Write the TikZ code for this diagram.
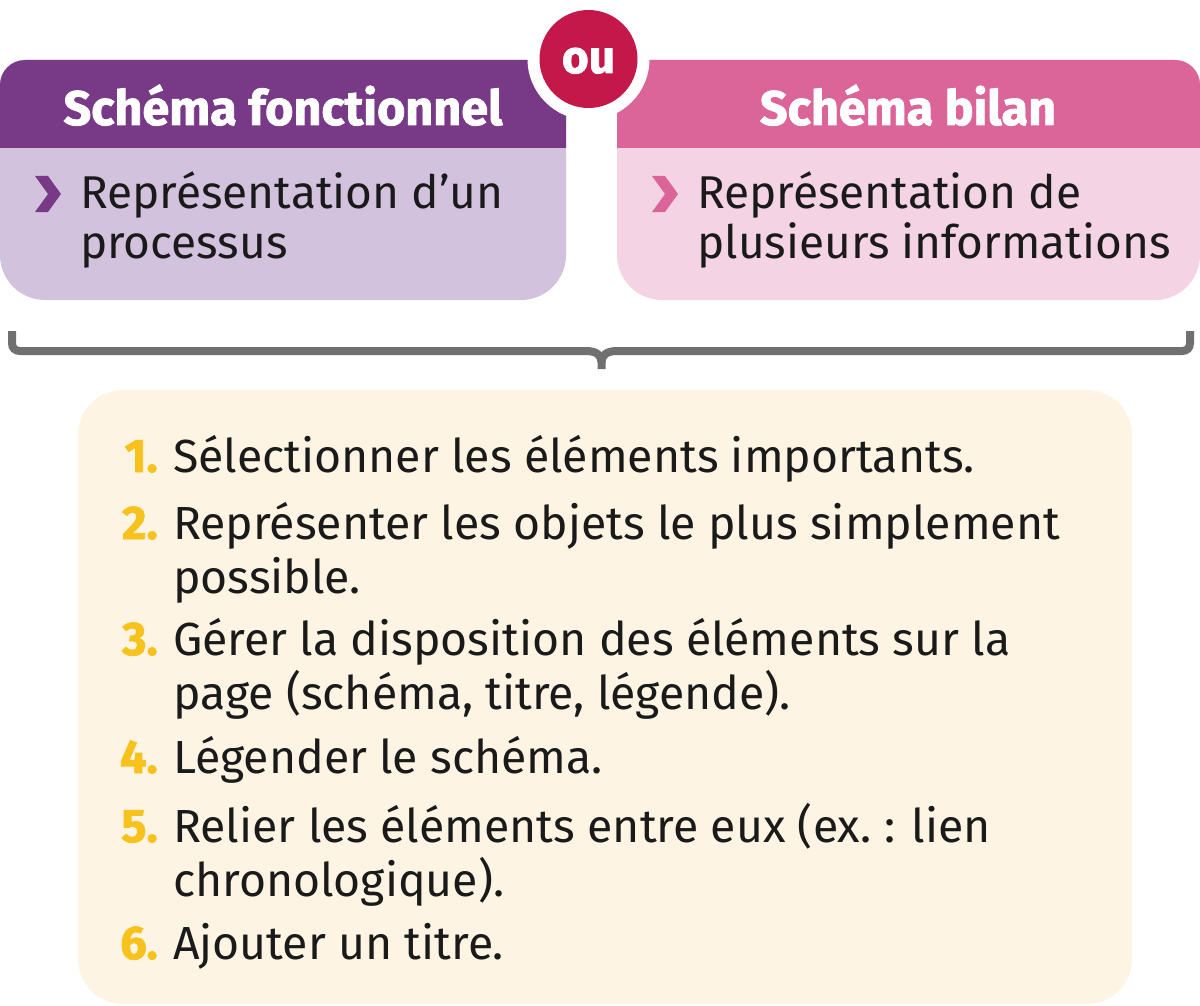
\documentclass[tikz,border=0pt]{standalone}
\usepackage{fontspec}
\setmainfont{Fira Sans}
\newfontfamily\heavyfont[FakeBold=1.6]{Fira Sans Bold}
\definecolor{purpleH}{HTML}{783A87}
\definecolor{purpleB}{HTML}{D3C2DE}
\definecolor{pinkH}{HTML}{DB6598}
\definecolor{pinkB}{HTML}{F4D4E4}
\definecolor{ouRed}{HTML}{C4184B}
\definecolor{creme}{HTML}{FDF4E3}
\definecolor{numY}{HTML}{F8C21C}
\definecolor{braceG}{HTML}{707070}
\definecolor{txt}{HTML}{1A1A1A}
\tikzset{
  heading/.style={font=\fontsize{48.5}{50}\heavyfont, text=white, inner sep=0pt, anchor=base},
  boxtext/.style={font=\fontsize{46}{50}\selectfont, text=txt, inner sep=0pt, anchor=base west},
  itemnum/.style={font=\fontsize{47}{54}\heavyfont, text=numY, inner sep=0pt, anchor=base east},
  itemtext/.style={font=\fontsize{46.4}{54}\selectfont, text=txt, inner sep=0pt, anchor=base west},
}
\newcommand{\twoline}[2]{\parbox[t]{1000pt}{#1\\#2}}
\begin{document}
\begin{tikzpicture}[x=1pt,y=-1pt]
\useasboundingbox (0,0) rectangle (1200,1006);
% left box
\fill[purpleB] (566,148) -- (566,60) [rounded corners=25]-- (0,60) [rounded corners=45]-- (0,300) -- (566,300) [sharp corners]-- cycle;
\fill[purpleH] (566,148) -- (566,60) [rounded corners=25]-- (0,60) [sharp corners]-- (0,148) -- cycle;
% right box
\fill[pinkB] (617,148) [rounded corners=25]-- (617,60) -- (1200,60) [rounded corners=45]-- (1200,300) -- (617,300) [sharp corners]-- cycle;
\fill[pinkH] (617,148) [rounded corners=25]-- (617,60) -- (1200,60) [sharp corners]-- (1200,148) -- cycle;
% ou circle
\fill[white] (588.5,59) circle[radius=61];
\node[circle, fill=ouRed, minimum size=98pt, inner sep=0pt] (ou) at (588.5,59) {};
\node[text=white, font=\fontsize{46}{50}\heavyfont, inner sep=0pt, anchor=base] (outext) at (588.5,73) {ou};
% headings
\node[heading] (hL) at (283,125) {Schéma fonctionnel};
\node[heading] (hR) at (908,125) {Schéma bilan};
% chevrons
\fill[purpleH] (35,176) -- (48,176) -- (61,194) -- (48,212) -- (35,212) -- (48,194) -- cycle;
\fill[pinkH] (652,176) -- (665,176) -- (678,194) -- (665,212) -- (652,212) -- (665,194) -- cycle;
\node[boxtext] (tL) at (80,208) {\twoline{Représentation d’un}{processus}};
\node[boxtext] (tR) at (697,208) {\twoline{Représentation de}{plusieurs informations}};
% brace
\draw[braceG, line width=8pt] (12,331) -- (12,343) .. controls (12,348) and (15,351) .. (20,351) -- (586,351) .. controls (596,351) and (601.5,355) .. (601.5,362) -- (601.5,369);
\draw[braceG, line width=8pt] (1190,331) -- (1190,343) .. controls (1190,348) and (1187,351) .. (1182,351) -- (617,351) .. controls (607,351) and (601.5,355) .. (601.5,362);
% bottom box
\fill[creme, rounded corners=45] (78,390) rectangle (1132,1004);
\node[itemnum] (n1) at (158,472) {1.};
\node[itemtext] (i1) at (173,472) {Sélectionner les éléments importants.};
\node[itemnum] (n2) at (158,539) {2.};
\node[itemtext] (i2) at (173,539) {\twoline{Représenter les objets le plus simplement}{possible.}};
\node[itemnum] (n3) at (158,655) {3.};
\node[itemtext] (i3) at (173,655) {\twoline{Gérer la disposition des éléments sur la}{page (schéma, titre, légende).}};
\node[itemnum] (n4) at (158,773) {4.};
\node[itemtext] (i4) at (173,773) {Légender le schéma.};
\node[itemnum] (n5) at (158,842) {5.};
\node[itemtext] (i5) at (173,842) {\twoline{Relier les éléments entre eux (ex.~: lien}{chronologique).}};
\node[itemnum] (n6) at (158,959) {6.};
\node[itemtext] (i6) at (173,959) {Ajouter un titre.};
\end{tikzpicture}
\end{document}
